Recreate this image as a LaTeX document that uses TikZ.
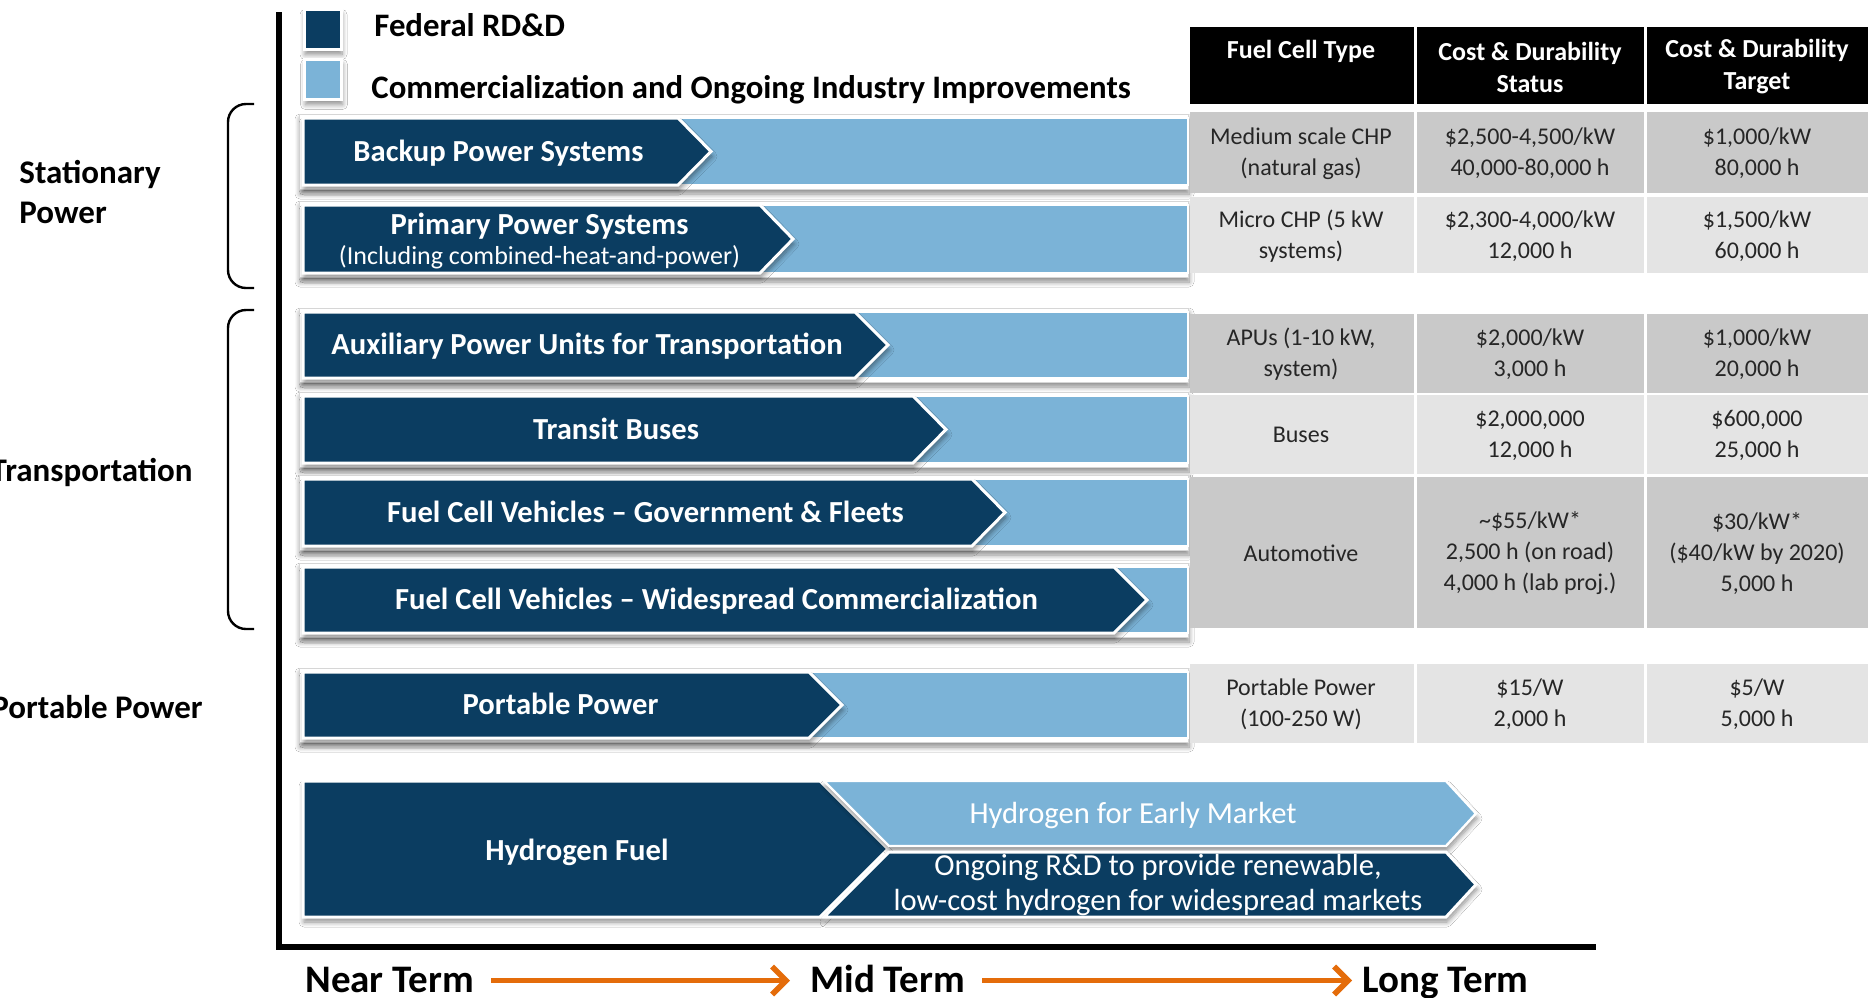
\documentclass[tikz,border=0pt]{standalone}
\usepackage{fontspec}
\setmainfont{Carlito}
\usetikzlibrary{arrows.meta,positioning,shadows.blur}
\definecolor{fedBlue}{HTML}{0B3D61}
\definecolor{comBlue}{HTML}{7BB3D7}
\definecolor{rowDark}{HTML}{C9C9C9}
\definecolor{rowLight}{HTML}{E4E4E4}
\definecolor{termOrange}{HTML}{E46C0A}
\definecolor{frameGray}{HTML}{D6D6D6}
\definecolor{cellText}{HTML}{262626}

\begin{document}
\begin{tikzpicture}[
  x=0.5pt, y=-0.5pt,
  font=\fontsize{16}{20}\selectfont,
  softshadow/.style={blur shadow={shadow xshift=0.5pt,shadow yshift=-2.5pt,shadow blur radius=2.5pt,shadow blur steps=8,shadow opacity=45}},
  barframe/.style={fill=white,draw=frameGray,line width=0.5pt,softshadow},
  combar/.style={fill=comBlue,draw=white,line width=1.2pt},
  fedbar/.style={fill=fedBlue,draw=white,line width=1.5pt,softshadow},
  keybox/.style={draw=white,line width=1.5pt,minimum width=18.5pt,minimum height=20pt,inner sep=0pt,softshadow},
  keytext/.style={anchor=west,inner sep=0pt,text height=10.4pt,text depth=0pt,font=\fontsize{16.4}{20}\selectfont\bfseries},
  sector/.style={inner sep=0pt,align=left,font=\fontsize{16.5}{20}\selectfont\bfseries},
  capcenter/.style={text height=10.4pt,text depth=0pt},
  barlabel/.style={text=white,align=center,inner sep=0pt,font=\fontsize{15.3}{15}\selectfont\bfseries},
  onerow/.style={text height=9.7pt,text depth=0pt},
  tworow/.style={yshift=-1pt},
  h2label/.style={text=white,align=center,inner sep=0pt,font=\fontsize{15.3}{17.5}\selectfont},
  headtext/.style={text=white,align=center,inner sep=0pt,font=\fontsize{13}{16}\selectfont\bfseries},
  celltext/.style={text=cellText,align=center,inner sep=0pt,font=\fontsize{12}{15.5}\selectfont},
  term/.style={inner sep=0pt,anchor=west,text height=12.3pt,text depth=0pt,font=\fontsize{19.5}{22}\selectfont\bfseries},
  termarrow/.style={termOrange,line width=2.8pt,-{Straight Barb[length=7pt,width=14pt]}},
  axisline/.style={line width=3pt},
  bracket/.style={line width=1.2pt,rounded corners=9pt}
]
  \useasboundingbox (0,0) rectangle (1868,997);
  \fill[white] (0,0) rectangle (1868,997);

  % legend
  \node[keybox,fill=fedBlue] (fedkey) at (322.5,29.5) {};
  \node[keybox,fill=comBlue] (comkey) at (323,79.5) {};
  \node[keytext] (fedtext) at (374,26) {Federal RD\&D};
  \node[keytext] (comtext) at (371,88.5) {Commercialization and Ongoing Industry Improvements};

  % market sectors
  \node[sector,anchor=west] (stationary) at (19,192) {Stationary\\Power};
  \node[sector,capcenter,anchor=east] (transport) at (193,471) {Transportation};
  \node[sector,capcenter,anchor=east] (portsector) at (203,708) {Portable Power};
  \draw[bracket] (254,104) -- (228,104) -- (228,288) -- (254,288);
  \draw[bracket] (254,310) -- (228,310) -- (228,629) -- (254,629);

  % application bars: frame, commercialization band, RD&D chevron
  \foreach \ya/\yb/\tip/\nm/\rows/\txt in {
    118/185/711/backup/onerow/{Backup Power Systems},
    205/273/793/primary/tworow/{Primary Power Systems\\{\fontsize{13}{15}\selectfont\mdseries(Including combined-heat-and-power)}},
    312/378/888/apu/onerow/{Auxiliary Power Units for Transportation},
    396/463/946/buses/onerow/{Transit Buses},
    479/546/1005/fcvfleet/onerow/{Fuel Cell Vehicles -- Government \& Fleets},
    567/633/1147/fcvwide/onerow/{Fuel Cell Vehicles -- Widespread Commercialization},
    672/738/842/portable/onerow/{Portable Power}
  }{
    \path[barframe] (299,\ya-4) rectangle (1188,\yb+4);
    \path[combar] (303,\ya) rectangle (1188,\yb);
    \path[fedbar] (303,\ya) -- (\tip-33,\ya) -- (\tip,{(\ya+\yb)/2}) -- (\tip-33,\yb) -- (303,\yb) -- cycle;
    \node[barlabel,\rows] (\nm) at ({(286+\tip)/2},{(\ya+\yb)/2}) {\txt};
  }

  % hydrogen fuel pathway
  \path[fedbar] (303,781) -- (820,781) -- (888,849) -- (820,917) -- (303,917) -- cycle;
  \path[combar,softshadow] (824,781) -- (1446,781) -- (1476,813.5) -- (1446,846) -- (889,846) -- cycle;
  \path[fedbar] (889,852) -- (1446,852) -- (1476,884.5) -- (1446,917) -- (824,917) -- cycle;
  \node[barlabel,onerow] (h2fuel) at (577,851) {Hydrogen Fuel};
  \node[h2label,capcenter] (h2early) at (1133,813) {Hydrogen for Early Market};
  \node[h2label] (h2rd) at (1158,885) {Ongoing R\&D to provide renewable,\\low-cost hydrogen for widespread markets};

  % cost and durability table
  \foreach \ya/\yb/\tone in {27/104/black,112/193/rowDark,197/273/rowLight,314/393/rowDark,395/474/rowLight,477/628/rowDark,664/743/rowLight}
    \foreach \xa/\xb in {1188/1415,1415/1645,1645/1880}
      \fill[\tone] (\xa+1.5,\ya) rectangle (\xb-1.5,\yb);
  \node[headtext] (typehead) at (1301,51) {Fuel Cell Type};
  \node[headtext] (statushead) at (1530,67) {Cost \& Durability\\Status};
  \node[headtext] (targethead) at (1757,67) {Cost \& Durability\\Target};

  \node[celltext] (chpmedtype) at (1301,153.5) {Medium scale CHP\\(natural gas)};
  \node[celltext] (chpmednow) at (1530,153.5) {\$2,500-4,500/kW\\40,000-80,000 h};
  \node[celltext] (chpmedgoal) at (1757,153.5) {\$1,000/kW\\80,000 h};

  \node[celltext] (chpmicrotype) at (1301,236) {Micro CHP (5 kW\\systems)};
  \node[celltext] (chpmicronow) at (1530,236) {\$2,300-4,000/kW\\12,000 h};
  \node[celltext] (chpmicrogoal) at (1757,236) {\$1,500/kW\\60,000 h};

  \node[celltext] (aputype) at (1301,354.5) {APUs (1-10 kW,\\system)};
  \node[celltext] (apunow) at (1530,354.5) {\$2,000/kW\\3,000 h};
  \node[celltext] (apugoal) at (1757,354.5) {\$1,000/kW\\20,000 h};

  \node[celltext] (bustype) at (1301,435) {Buses};
  \node[celltext] (busnow) at (1530,435.5) {\$2,000,000\\12,000 h};
  \node[celltext] (busgoal) at (1757,435.5) {\$600,000\\25,000 h};

  \node[celltext] (autotype) at (1301,553) {Automotive};
  \node[celltext] (autonow) at (1530,553.5) {\textasciitilde\$55/kW*\\2,500 h (on road)\\4,000 h (lab proj.)};
  \node[celltext] (autogoal) at (1757,553.5) {\$30/kW*\\(\$40/kW by 2020)\\5,000 h};

  \node[celltext] (porttype) at (1301,704.5) {Portable Power\\(100-250 W)};
  \node[celltext] (portnow) at (1530,704.5) {\$15/W\\2,000 h};
  \node[celltext] (portgoal) at (1757,704.5) {\$5/W\\5,000 h};

  % time axis
  \draw[axisline] (279,12) -- (279,947) -- (1596,947);
  \node[term] (near) at (305,980.5) {Near Term};
  \node[term] (mid) at (810,980.5) {Mid Term};
  \node[term] (long) at (1362,980.5) {Long Term};
  \draw[termarrow,shorten <=8.5pt,shorten >=10pt] (near) -- (mid);
  \draw[termarrow,shorten <=8.5pt,shorten >=5pt] (mid) -- (long);
\end{tikzpicture}
\end{document}
